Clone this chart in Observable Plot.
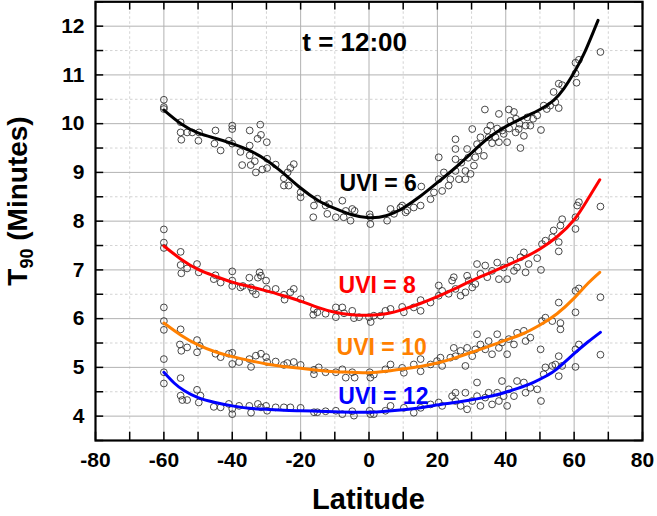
<!DOCTYPE html>
<html>
<head>
<meta charset="utf-8">
<script src="https://cdn.jsdelivr.net/npm/d3@7"></script>
<script src="https://cdn.jsdelivr.net/npm/@observablehq/plot@0.6"></script>
<style>
  html, body { margin: 0; padding: 0; background: white; }
  #chart { width: 657px; height: 516px; }
</style>
</head>
<body>
<div id="chart"></div>
<script>
// ---------- axes ----------
const xDomain = [-80, 80];
const yDomain = [3.5, 12.5];
const xMajor = [-80, -60, -40, -20, 0, 20, 40, 60, 80];
const xTickLabels = ["-80", "-60", "-40", "-20", "0", "20", "40", "60", "80"];
const xMinor = [-70, -50, -30, -10, 10, 30, 50, 70];
const yMajor = [4, 5, 6, 7, 8, 9, 10, 11, 12];
const yTickLabels = ["4", "5", "6", "7", "8", "9", "10", "11", "12"];
const yMinor = [4.5, 5.5, 6.5, 7.5, 8.5, 9.5, 10.5, 11.5];
const xAllTicks = [-80, -70, -60, -50, -40, -30, -20, -10, 0, 10, 20, 30, 40, 50, 60, 70, 80];
const yAllTicks = [3.5, 4, 4.5, 5, 5.5, 6, 6.5, 7, 7.5, 8, 8.5, 9, 9.5, 10, 10.5, 11, 11.5, 12, 12.5];
const xLabel = "Latitude";

// ---------- fitted curves [latitude, T90] ----------
const fitUVI6 = [[-60,10.28],[-55,10.0],[-50,9.81],[-45,9.70],[-40,9.59],[-35,9.45],[-30,9.25],[-25,8.98],[-20,8.68],[-15,8.43],[-10,8.26],[-5,8.13],[0,8.07],[5,8.11],[10,8.27],[15,8.51],[20,8.79],[25,9.08],[30,9.40],[35,9.71],[40,9.94],[45,10.12],[50,10.29],[54,10.48],[57,10.72],[60,11.05],[63,11.45],[67,12.12]];
const fitUVI8 = [[-60,7.49],[-55,7.22],[-50,7.01],[-45,6.87],[-40,6.75],[-35,6.66],[-30,6.57],[-25,6.47],[-20,6.36],[-15,6.23],[-10,6.13],[-5,6.08],[0,6.07],[5,6.10],[10,6.19],[15,6.31],[20,6.45],[25,6.61],[30,6.78],[35,6.93],[40,7.08],[45,7.24],[50,7.43],[55,7.68],[60,8.03],[64,8.45],[67.5,8.85]];
const fitUVI10 = [[-60,5.91],[-55,5.66],[-50,5.46],[-45,5.32],[-40,5.22],[-35,5.14],[-30,5.07],[-25,5.02],[-20,4.98],[-15,4.94],[-10,4.91],[-5,4.90],[0,4.89],[5,4.92],[10,4.97],[15,5.02],[20,5.09],[25,5.19],[30,5.31],[35,5.43],[40,5.56],[45,5.69],[50,5.87],[55,6.10],[60,6.42],[64,6.72],[67.5,6.95]];
const fitUVI12 = [[-60,4.9],[-57,4.68],[-54,4.52],[-50,4.38],[-45,4.28],[-40,4.21],[-35,4.16],[-30,4.14],[-25,4.12],[-20,4.11],[-15,4.10],[-10,4.09],[-5,4.08],[0,4.08],[5,4.10],[10,4.13],[15,4.17],[19,4.22],[24,4.27],[28.8,4.32],[33.5,4.38],[38.5,4.46],[43.5,4.57],[48.3,4.70],[52,4.83],[55,4.97],[60,5.28],[64,5.52],[67.7,5.72]];

// ---------- measured points [latitude, T90] ----------
const ptsUVI6 = [[-60,10.49],[-60,10.34],[-60,10.30],[-55.1,10.03],[-55.1,9.82],[-54.9,9.67],[-53.2,9.82],[-51.7,9.82],[-49.7,9.82],[-49.9,9.65],[-44.9,9.86],[-45.2,9.59],[-43.4,9.45],[-40,9.96],[-40,9.89],[-41,9.65],[-40,9.59],[-37.6,9.42],[-37.1,9.15],[-34.9,9.86],[-34.9,9.55],[-34.9,9.35],[-34.6,9.15],[-33.4,9.23],[-33.1,9.00],[-32.6,9.69],[-31.8,9.98],[-31.6,9.77],[-31.2,9.06],[-29.9,9.62],[-29.8,9.09],[-29.8,9.28],[-27.3,9.16],[-24.9,8.88],[-24.9,8.73],[-23.8,9.00],[-23.5,8.73],[-23,9.09],[-22,9.17],[-20,8.59],[-20,8.49],[-16.1,8.32],[-16.3,8.08],[-15.1,8.46],[-12.7,8.32],[-12.2,8.15],[-11.7,8.35],[-9.7,8.08],[-7.8,8.42],[-7.4,8.08],[-6.8,8.21],[-5.4,8.01],[-4.9,8.25],[-4.2,8.21],[0.2,8.14],[0.4,7.94],[0.4,8.08],[5.3,8.01],[6.3,8.25],[7.3,8.15],[9.2,8.28],[9.7,8.32],[10.7,8.18],[11.2,8.22],[13.1,8.28],[15.1,8.32],[15.3,8.71],[18,8.45],[19,8.59],[20.4,8.86],[20.4,9.31],[21.4,8.62],[21.9,9.00],[23.3,8.73],[23.8,8.86],[25.3,9.68],[25.3,9.48],[25.3,9.27],[25.3,9.03],[26.3,8.86],[27,9.2],[28.2,8.86],[28.2,9.03],[28.7,9.48],[29,9.3],[29.7,8.97],[30.2,9.89],[30.7,9.14],[31.1,9.31],[31.6,9.58],[32,9.45],[32.6,9.72],[33.6,9.34],[33.9,10.29],[34.6,9.86],[35,9.72],[35.5,9.96],[36,9.6],[37,9.72],[37.5,9.9],[38,10.20],[38,9.62],[39,9.86],[39.4,9.79],[40.4,9.62],[40.9,10.29],[41,9.9],[41.4,10.06],[42.4,10.24],[42.9,9.82],[43,10.1],[43.8,9.89],[44,10.0],[44.3,9.50],[45.3,9.75],[45.8,9.96],[46.3,10.13],[47.2,9.96],[48,10.1],[49.2,10.17],[50.3,9.87],[51.1,10.37],[52,10.3],[53,10.37],[54,10.65],[54.5,10.44],[55.5,10.32],[55.5,10.82],[56.5,10.79],[60.4,11.25],[60.4,11.03],[60.7,10.84],[61.4,11.31],[67.7,11.47]];
const ptsUVI8 = [[-60,7.83],[-60,7.56],[-60,7.45],[-55.1,7.37],[-55.1,7.10],[-54.9,6.93],[-53.2,7.03],[-50.3,7.12],[-49.8,6.95],[-45.4,6.81],[-44.9,6.89],[-43.4,6.74],[-40,6.97],[-40,6.78],[-40,6.67],[-37.6,6.64],[-36.9,6.67],[-35,6.84],[-34.5,6.64],[-34,6.57],[-33.1,6.50],[-32.5,6.84],[-32,6.95],[-31.6,6.88],[-30.1,6.78],[-29.9,6.61],[-27.3,6.61],[-24.9,6.49],[-24.7,6.39],[-23,6.54],[-22,6.61],[-20,6.40],[-16.3,6.08],[-16.1,6.19],[-15.1,6.13],[-12.7,6.10],[-9.7,6.23],[-9.7,6.03],[-7.8,6.23],[-7.3,6.11],[-4.9,6.16],[-4.4,6.01],[-2.9,6.03],[0,6.03],[0.5,5.93],[1.4,6.06],[3.4,6.06],[4.8,6.16],[6.3,6.20],[9.7,6.24],[10.2,6.13],[13.1,6.23],[15.1,6.38],[15.1,6.16],[18,6.33],[20.4,6.68],[20.4,6.47],[21.4,6.57],[23.3,6.51],[24.3,6.78],[24.8,6.85],[25.3,6.61],[26.8,6.47],[28.2,6.54],[28.7,6.88],[29.2,6.78],[30.2,6.64],[31.1,6.71],[31.6,7.12],[32.6,6.92],[34,7.09],[34.6,6.85],[36,6.98],[37.5,7.15],[38,6.81],[39.4,7.05],[40.4,6.81],[41.4,7.19],[42.4,6.98],[43.3,7.05],[44.3,7.26],[45.3,7.36],[45.8,6.95],[46.7,7.12],[49.2,7.24],[50.3,7.00],[50.6,7.53],[51.6,7.60],[53.6,7.67],[54,7.81],[55.5,7.57],[55.5,7.38],[56,7.91],[56.5,8.04],[60.4,8.08],[60.4,7.84],[60.9,8.32],[61.4,8.39],[67.7,8.30]];
const ptsUVI10 = [[-60,6.23],[-60,5.95],[-60,5.77],[-55.1,5.78],[-55.3,5.47],[-54.9,5.34],[-53.2,5.41],[-50.3,5.56],[-49.5,5.44],[-50.3,5.31],[-44.9,5.28],[-43.4,5.21],[-41,5.28],[-40,5.30],[-40,5.07],[-38,5.11],[-35,5.17],[-34.5,5.01],[-33.1,5.24],[-31.6,5.28],[-30.1,5.21],[-29.8,5.11],[-27.3,5.12],[-24.9,5.05],[-23.9,5.09],[-22,5.11],[-20,5.05],[-16.1,4.95],[-16.1,4.86],[-14.7,5.00],[-12.7,4.90],[-9.7,4.90],[-7.8,4.96],[-6.8,4.79],[-4.9,4.90],[-4.2,4.79],[0.2,4.90],[0.4,4.79],[1.4,4.85],[4.8,4.96],[6.3,5.06],[9.7,4.99],[10.2,4.89],[13.1,5.06],[15.1,5.17],[15.1,4.92],[18,5.06],[19.9,5.13],[20.9,5.20],[21.4,5.03],[23.8,5.20],[24.8,5.40],[25.3,5.23],[26.8,5.34],[28.2,5.03],[28.7,5.40],[30.2,5.23],[31.1,5.37],[31.6,5.68],[32.6,5.47],[34,5.37],[35,5.54],[36,5.27],[37.5,5.68],[38,5.40],[38.9,5.51],[40.4,5.27],[40.9,5.58],[42.4,5.47],[43.3,5.71],[45.3,5.75],[45.8,5.54],[47.2,5.61],[50.2,5.37],[50.6,5.95],[51.6,6.02],[53.6,5.95],[55.5,6.33],[56,5.91],[56,5.78],[60.4,6.57],[61.4,6.62],[60.4,6.13],[67.7,6.44]];
const ptsUVI12 = [[-60,5.17],[-60,4.90],[-60,4.67],[-55.1,4.78],[-55.1,4.42],[-54.6,4.33],[-53.2,4.33],[-50.3,4.54],[-49.3,4.42],[-49.8,4.28],[-45.4,4.19],[-43.4,4.18],[-41,4.25],[-40,4.15],[-40,4.04],[-38,4.21],[-35,4.21],[-34.5,4.07],[-32.5,4.25],[-31.6,4.18],[-30.1,4.21],[-29.8,4.11],[-27.3,4.18],[-24.9,4.18],[-23,4.18],[-20,4.17],[-16.1,4.08],[-15.1,4.08],[-12.7,4.10],[-9.7,4.11],[-7.8,4.04],[-4.9,4.10],[-4.4,4.01],[0.2,4.11],[0.4,4.04],[1.4,4.04],[4.8,4.11],[6.3,4.21],[10.2,4.17],[13.1,4.07],[15.1,4.17],[18,4.24],[20.4,4.28],[21.4,4.21],[24.3,4.41],[25.3,4.48],[25.3,4.31],[26.8,4.21],[28.2,4.48],[28.7,4.14],[30.2,4.31],[31.6,4.69],[31.6,4.41],[32.6,4.21],[34,4.38],[35,4.48],[36,4.24],[37.5,4.48],[38,4.31],[38.9,4.72],[39.4,4.41],[40.4,4.21],[40.9,4.55],[42.4,4.41],[43.3,4.72],[45.3,4.69],[45.8,4.48],[47.2,4.58],[49.2,4.55],[50.3,4.31],[51.1,4.86],[51.6,5.00],[53.6,5.03],[54.5,5.06],[55.5,5.23],[55.5,4.82],[56.5,5.03],[60.4,5.37],[60.4,5.01],[61.4,5.47],[67.7,5.26]];

// ---------- annotations ----------
const seriesNames = ["UVI = 6", "UVI = 8", "UVI = 10", "UVI = 12"];
const seriesColors = ["#000000", "#ff0000", "#ff8000", "#0000ff"];
const labelLat = [2.7, 2.4, 3.7, 4.2];
const labelT90 = [8.77, 6.67, 5.40, 4.41];
const timeText = "t = 12:00";
const timeLat = -4.2;
const timeT90 = 11.66;

// ---------- build ----------
const toObj = (arr) => arr.map(([x, y]) => ({x, y}));
const fits = [fitUVI6, fitUVI8, fitUVI10, fitUVI12].map(toObj);
const pts = [...ptsUVI6, ...ptsUVI8, ...ptsUVI10, ...ptsUVI12].map(([x, y]) => ({x, y}));
const labels = seriesNames.map((t, i) => ({text: t, x: labelLat[i], y: labelT90[i], color: seriesColors[i]}));

const FONT = '"Liberation Sans", Arial, sans-serif';
const tickLenY = 0.17;  // in T90 units (vertical tick length)
const tickLenX = 2.4;   // in latitude units (horizontal tick length)

const plot = Plot.plot({
  width: 657,
  height: 516,
  marginLeft: 95,
  marginRight: 15,
  marginTop: 1.3,
  marginBottom: 76,
  x: {domain: xDomain},
  y: {domain: yDomain},
  style: {fontFamily: FONT, fontWeight: "bold", background: "white", color: "black"},
  marks: [
    Plot.ruleX(xMinor, {stroke: "#c8c8c8", strokeWidth: 0.8, strokeDasharray: "2.5,2.5"}),
    Plot.ruleY(yMinor, {stroke: "#c8c8c8", strokeWidth: 0.8, strokeDasharray: "2.5,2.5"}),
    Plot.ruleX(xMajor, {stroke: "#b2b2b2", strokeWidth: 1}),
    Plot.ruleY(yMajor, {stroke: "#b2b2b2", strokeWidth: 1}),
    Plot.dot(pts, {x: "x", y: "y", r: 3.4, stroke: "#333", strokeWidth: 0.9, fill: "none"}),
    ...fits.map((f, i) => Plot.line(f, {x: "x", y: "y", stroke: seriesColors[i], strokeWidth: 3, curve: "natural"})),
    Plot.text(labels, {x: "x", y: "y", text: "text", fill: "color", fontSize: 23, fontWeight: "bold"}),
    Plot.text([timeText], {x: () => timeLat, y: () => timeT90, text: (d) => d, fill: "black", fontSize: 26, fontWeight: "bold"}),
    // inward ticks on all four sides
    Plot.ruleX(xAllTicks, {y1: yDomain[0], y2: yDomain[0] + tickLenY, stroke: "black", strokeWidth: 1.5}),
    Plot.ruleX(xAllTicks, {y1: yDomain[1], y2: yDomain[1] - tickLenY, stroke: "black", strokeWidth: 1.5}),
    Plot.ruleY(yAllTicks, {x1: xDomain[0], x2: xDomain[0] + tickLenX, stroke: "black", strokeWidth: 1.5}),
    Plot.ruleY(yAllTicks, {x1: xDomain[1], x2: xDomain[1] - tickLenX, stroke: "black", strokeWidth: 1.5}),
    Plot.frame({stroke: "black", strokeWidth: 2.2}),
    Plot.axisX({ticks: xMajor, tickSize: 0, tickPadding: 12, tickFormat: (d) => xTickLabels[xMajor.indexOf(d)], fontSize: 21, fontWeight: "bold", label: null}),
    Plot.axisY({ticks: yMajor, tickSize: 0, tickPadding: 11, tickFormat: (d) => yTickLabels[yMajor.indexOf(d)], fontSize: 21, fontWeight: "bold", label: null})
  ]
});

const svg = d3.select(plot);
// x-axis title
svg.append("text")
  .attr("x", 368.5).attr("y", 509)
  .attr("text-anchor", "middle")
  .style("font-family", FONT).style("font-weight", "bold").style("font-size", "29px")
  .attr("fill", "black")
  .text(xLabel);
// y-axis title with subscript
const yt = svg.append("text")
  .attr("transform", "translate(27,201) rotate(-90)")
  .attr("text-anchor", "middle")
  .style("font-family", FONT).style("font-weight", "bold").style("font-size", "28px")
  .attr("fill", "black");
yt.append("tspan").text("T");
yt.append("tspan").attr("dy", 6).style("font-size", "18px").text("90");
yt.append("tspan").attr("dy", -6).text(" (Minutes)");

document.getElementById("chart").appendChild(plot);
</script>
</body>
</html>
